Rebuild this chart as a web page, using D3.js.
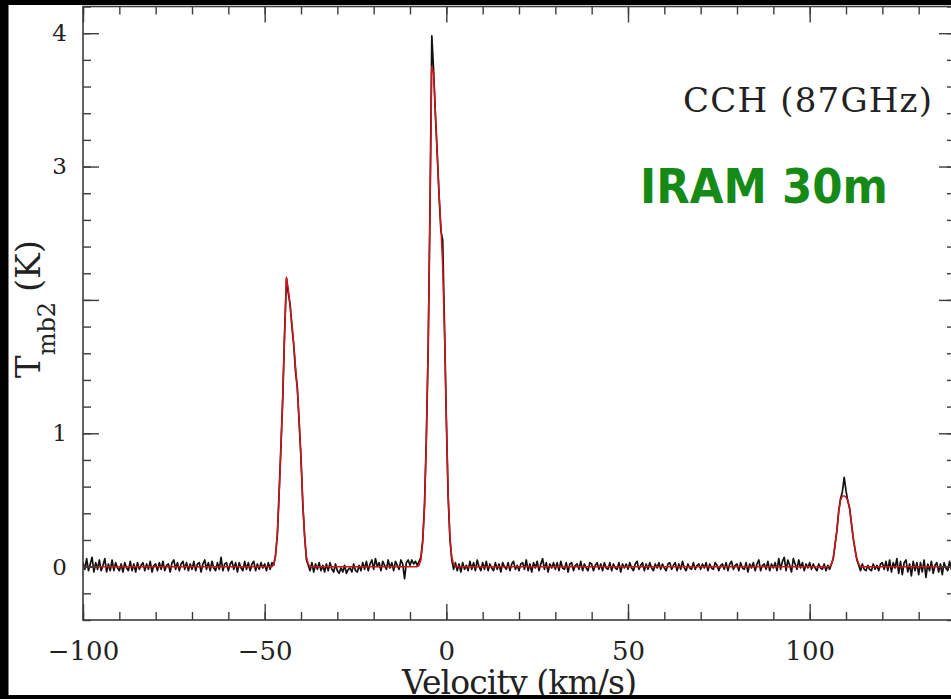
<!DOCTYPE html>
<html>
<head>
<meta charset="utf-8">
<script src="https://cdn.jsdelivr.net/npm/d3@7"></script>
<style>
  html, body { margin: 0; padding: 0; background: #fff; }
  svg { display: block; }
</style>
</head>
<body>
<svg id="chart" width="951" height="699"></svg>
<script>
// CCH (87 GHz) spectrum: observed channels (K) on a regular velocity grid
const obsStart = -100;   // km/s, first channel
const obsStep = 0.5;     // km/s per channel
const obsT = [
  0.03, -0.02, 0.06, -0.03, 0.02, 0.07, -0.04, 0.03, -0.02, 0.05, -0.03, 0.01, 0.06, -0.04, 0.02, -0.03, 0.05, -0.03, 0.03, -0.01,
  -0.03, 0.02, -0.04, 0.03, -0.01, -0.03, 0.04, -0.03, 0.02, -0.04, 0.03, -0.02, 0.01, 0.03, -0.03, 0.02, -0.02, 0.04, -0.04, 0.01,
  0.02, -0.03, 0.03, -0.02, 0.04, -0.03, 0.01, 0.02, -0.04, 0.03, 0.05, -0.02, 0.03, -0.03, 0.02, 0.04, -0.02, 0.03, -0.03, 0.02,
  -0.02, 0.04, -0.03, 0.02, 0.03, -0.04, 0.02, 0.05, -0.02, 0.03, -0.03, 0.04, -0.01, -0.03, 0.03, -0.02, 0.07, -0.03, 0.02, 0.03,
  -0.03, 0.02, 0.04, -0.02, 0.03, -0.04, 0.03, -0.01, -0.03, 0.04, -0.02, 0.03, -0.03, 0.02, 0.04, -0.03, 0.02, -0.02, 0.03, -0.01,
  0.02, -0.03, 0.03, -0.02, 0.03, 0.01, 0.09, 0.24, 0.57, 0.92, 1.28, 1.77, 2.16, 2.05, 1.97, 1.80, 1.66, 1.46, 1.34, 1.07,
  0.82, 0.46, 0.23, 0.05, 0.01, -0.03, 0.03, -0.04, 0.02, -0.02, 0.03, -0.03, 0.01, -0.04, 0.02, -0.03, 0.03, -0.02, -0.04, 0.02,
  -0.03, -0.05, -0.01, -0.04, 0.01, -0.05, -0.02, -0.01, -0.04, 0.02, -0.03, -0.04, 0.01, -0.03, 0.03, -0.02, 0.04, -0.03, 0.02, 0.05,
  -0.02, 0.06, 0.00, 0.03, -0.03, 0.04, 0.01, -0.02, 0.05, -0.01, 0.03, -0.03, 0.04, 0.01, -0.02, 0.05, 0.02, -0.09, 0.03, 0.05,
  0.01, 0.05, 0.02, 0.04, 0.01, 0.04, 0.07, 0.20, 0.47, 0.97, 1.62, 2.68, 3.98, 3.72, 3.38, 3.10, 2.78, 2.52, 2.45, 1.80,
  1.10, 0.52, 0.20, 0.05, -0.02, 0.03, -0.03, 0.02, -0.04, 0.03, -0.02, 0.01, -0.03, 0.04, -0.02, 0.03, -0.03, 0.05, 0.00, -0.03,
  0.03, -0.02, 0.04, -0.03, 0.02, -0.01, -0.03, 0.03, -0.02, 0.02, -0.04, 0.03, 0.00, -0.02, 0.03, -0.03, 0.02, 0.04, -0.02, 0.01,
  -0.03, 0.02, 0.03, -0.02, 0.05, -0.03, 0.02, -0.04, 0.03, -0.01, 0.04, -0.03, 0.02, 0.06, -0.02, 0.03, -0.04, 0.02, -0.01, 0.03,
  -0.02, 0.03, -0.03, 0.04, -0.01, -0.02, 0.03, -0.04, 0.02, 0.03, -0.03, 0.01, 0.02, -0.02, 0.04, -0.03, 0.02, -0.01, -0.03, 0.03,
  0.02, -0.03, 0.01, 0.03, -0.02, 0.02, -0.03, 0.03, -0.01, -0.02, 0.03, -0.03, 0.02, -0.01, -0.02, 0.03, -0.04, 0.02, -0.01, 0.02,
  -0.02, 0.03, -0.01, -0.03, 0.02, 0.04, -0.02, 0.01, 0.03, -0.03, 0.02, -0.02, 0.03, -0.01, -0.03, 0.02, -0.01, 0.03, -0.02, 0.02,
  -0.01, -0.03, 0.02, 0.03, -0.02, 0.01, 0.03, -0.03, 0.02, -0.02, 0.04, -0.01, -0.03, 0.02, -0.01, -0.02, 0.03, -0.02, 0.01, 0.02,
  -0.02, 0.02, -0.01, 0.03, -0.03, 0.02, -0.01, -0.02, 0.03, 0.01, -0.03, 0.01, 0.02, -0.02, 0.03, -0.03, 0.02, 0.04, -0.02, 0.01,
  0.02, -0.03, 0.03, -0.01, -0.02, 0.03, -0.04, 0.02, -0.01, 0.03, -0.03, 0.02, 0.05, -0.03, 0.01, 0.02, -0.02, 0.04, -0.03, 0.02,
  -0.01, 0.03, -0.03, 0.06, -0.02, 0.04, 0.07, -0.03, 0.05, 0.01, -0.04, 0.06, 0.02, -0.02, 0.05, -0.01, 0.03, -0.03, 0.02, -0.01,
  0.03, -0.02, 0.02, -0.01, -0.03, 0.02, -0.01, -0.02, 0.02, -0.03, 0.01, -0.02, 0.02, 0.06, 0.17, 0.27, 0.42, 0.51, 0.56, 0.67,
  0.57, 0.49, 0.44, 0.32, 0.21, 0.13, 0.05, 0.01, -0.03, 0.02, -0.02, -0.03, 0.01, -0.02, -0.03, 0.02, -0.02, 0.01, -0.03, 0.02,
  0.03, -0.02, 0.04, -0.03, 0.05, -0.04, 0.03, -0.01, 0.06, -0.05, 0.04, -0.06, 0.03, 0.05, -0.04, 0.02, -0.07, 0.04, -0.03, 0.03,
  -0.06, 0.03, -0.04, 0.05, -0.08, 0.02, -0.03, 0.04, -0.05, 0.01, 0.03, -0.04, 0.02, -0.06, 0.03, -0.01, -0.03, 0.04, -0.02, 0.02,
  -0.01
];

// Gaussian hyperfine fit, sampled at knots (km/s, K)
const fitV = [-100,
  -48, -47.5, -47, -46.5, -46, -45.5, -45, -44.5, -44, -43.5, -43, -42.5, -42, -41.5, -41, -40.5, -40, -39.5, -39, -38.5, -38, -37.5,
  -8, -7.5, -7, -6.5, -6, -5.5, -5, -4.5, -4, -3.5, -3, -2.5, -2, -1.5, -1, -0.5, 0, 0.5, 1, 1.5, 2, 2.5,
  105.5, 106, 106.5, 107, 107.5, 108, 108.5, 109, 109.5, 110, 110.5, 111, 111.5, 112, 112.5, 113, 113.5, 114,
  140];
const fitT = [0,
  0, 0.02, 0.08, 0.25, 0.55, 0.90, 1.30, 1.75, 2.17, 2.08, 1.95, 1.82, 1.67, 1.50, 1.32, 1.10, 0.80, 0.48, 0.22, 0.07, 0.02, 0,
  0, 0.01, 0.05, 0.18, 0.45, 0.95, 1.65, 2.65, 3.75, 3.70, 3.40, 3.08, 2.80, 2.55, 2.25, 1.75, 1.12, 0.55, 0.22, 0.07, 0.02, 0,
  0, 0.02, 0.07, 0.16, 0.28, 0.41, 0.50, 0.53, 0.53, 0.52, 0.50, 0.43, 0.33, 0.22, 0.12, 0.06, 0.02, 0,
  0];

// Axis ticks
const xMajorTicks = [-100, -50, 0, 50, 100];
const xMinorTicks = [-100, -90, -80, -70, -60, -50, -40, -30, -20, -10, 0, 10, 20, 30, 40, 50, 60, 70, 80, 90, 100, 110, 120, 130, 140];
const yMajorTicks = [0, 1, 2, 3, 4];
const yMinorTicks = [-0.4, -0.2, 0, 0.2, 0.4, 0.6, 0.8, 1, 1.2, 1.4, 1.6, 1.8, 2, 2.2, 2.4, 2.6, 2.8, 3, 3.2, 3.4, 3.6, 3.8, 4, 4.2];
const yTickLabels = [0, 1, 3, 4];

const svg = d3.select('#chart');
const W = 951, H = 699;

svg.append('rect').attr('width', W).attr('height', H).attr('fill', '#fff');

const x = d3.scaleLinear().domain([-100, 140]).range([83, 955]);
const y = d3.scaleLinear().domain([-0.4, 4.2]).range([620, 6.5]);

const axisColor = '#3c3c3c';
const serif = '"DejaVu Serif", "Liberation Serif", serif';

svg.append('clipPath').attr('id', 'plotClip')
  .append('rect')
  .attr('x', x(-100)).attr('y', y(4.2))
  .attr('width', x(140) - x(-100)).attr('height', y(-0.4) - y(4.2));

const plot = svg.append('g').attr('clip-path', 'url(#plotClip)');

// observed spectrum
const obsLine = d3.line()
  .x((d, i) => x(obsStart + i * obsStep))
  .y(d => y(d));
plot.append('path')
  .datum(obsT)
  .attr('d', obsLine)
  .attr('fill', 'none')
  .attr('stroke', '#111')
  .attr('stroke-width', 1.7)
  .attr('stroke-linejoin', 'round');

// fitted profile
const fitLine = d3.line()
  .x((d, i) => x(fitV[i]))
  .y(d => y(d));
plot.append('path')
  .datum(fitT)
  .attr('d', fitLine)
  .attr('fill', 'none')
  .attr('stroke', '#d4141a')
  .attr('stroke-width', 1.5)
  .attr('stroke-linejoin', 'round');

// ticks on all four sides, pointing inward
function styleAxis(g) {
  g.select('.domain').remove();
  g.selectAll('.tick line').attr('stroke', axisColor).attr('stroke-width', 1.4);
  g.selectAll('.tick text').attr('fill', '#222').attr('font-family', serif);
}

svg.append('g').attr('transform', `translate(0,${y(-0.4)})`)
  .call(d3.axisBottom(x).tickValues(xMinorTicks).tickSize(-8).tickFormat(''))
  .call(styleAxis);
svg.append('g').attr('transform', `translate(0,${y(-0.4)})`)
  .call(d3.axisBottom(x).tickValues(xMajorTicks).tickSize(-16).tickPadding(22).tickFormat(d3.format('d')))
  .call(styleAxis)
  .call(g => g.selectAll('.tick text').attr('font-size', 26));

svg.append('g').attr('transform', `translate(0,${y(4.2)})`)
  .call(d3.axisTop(x).tickValues(xMinorTicks).tickSize(-8).tickFormat(''))
  .call(styleAxis);
svg.append('g').attr('transform', `translate(0,${y(4.2)})`)
  .call(d3.axisTop(x).tickValues(xMajorTicks).tickSize(-16).tickFormat(''))
  .call(styleAxis);

svg.append('g').attr('transform', `translate(${x(-100)},0)`)
  .call(d3.axisLeft(y).tickValues(yMinorTicks).tickSize(-8).tickFormat(''))
  .call(styleAxis);
svg.append('g').attr('transform', `translate(${x(-100)},0)`)
  .call(d3.axisLeft(y).tickValues(yMajorTicks).tickSize(-16).tickFormat(''))
  .call(styleAxis);
svg.append('g').attr('transform', `translate(${x(-100)},0)`)
  .call(d3.axisLeft(y).tickValues(yTickLabels).tickSize(0).tickPadding(16).tickFormat(d3.format('d')))
  .call(styleAxis)
  .call(g => g.selectAll('.tick text').attr('font-size', 23));

svg.append('g').attr('transform', `translate(${x(140)},0)`)
  .call(d3.axisRight(y).tickValues(yMinorTicks).tickSize(-8).tickFormat(''))
  .call(styleAxis);
svg.append('g').attr('transform', `translate(${x(140)},0)`)
  .call(d3.axisRight(y).tickValues(yMajorTicks).tickSize(-16).tickFormat(''))
  .call(styleAxis);

// frame
svg.append('rect')
  .attr('x', x(-100)).attr('y', y(4.2))
  .attr('width', x(140) - x(-100)).attr('height', y(-0.4) - y(4.2))
  .attr('fill', 'none').attr('stroke', axisColor).attr('stroke-width', 1.6);

// line label
svg.append('text')
  .attr('x', 683).attr('y', 112)
  .attr('font-family', serif).attr('font-size', 34).attr('fill', '#222')
  .attr('textLength', 249).attr('lengthAdjust', 'spacing')
  .text('CCH (87GHz)');

// telescope label
svg.append('text')
  .attr('x', 640).attr('y', 203)
  .attr('font-family', '"DejaVu Sans", sans-serif').attr('font-weight', 'bold')
  .attr('font-size', 48).attr('fill', '#168a16')
  .attr('textLength', 248).attr('lengthAdjust', 'spacingAndGlyphs')
  .text('IRAM 30m');

// axis titles
svg.append('text')
  .attr('x', 519.5).attr('y', 694)
  .attr('text-anchor', 'middle')
  .attr('font-family', serif).attr('font-size', 33).attr('fill', '#222')
  .attr('textLength', 235).attr('lengthAdjust', 'spacing')
  .text('Velocity (km/s)');

const yTitle = svg.append('text')
  .attr('transform', 'translate(40,378) rotate(-90)')
  .attr('font-family', serif).attr('font-size', 34).attr('fill', '#222');
yTitle.append('tspan').text('T');
yTitle.append('tspan').attr('dy', 15).attr('font-size', 24).text('mb2');
yTitle.append('tspan').attr('dy', -15).attr('dx', 10).text('(K)');

// dark surround
svg.append('rect').attr('x', 0).attr('y', 0).attr('width', 8.5).attr('height', H).attr('fill', '#000');
svg.append('rect').attr('x', 0).attr('y', 0).attr('width', W).attr('height', 5).attr('fill', '#000');
svg.append('rect').attr('x', 0).attr('y', 695).attr('width', W).attr('height', 4).attr('fill', '#000');
</script>
</body>
</html>
